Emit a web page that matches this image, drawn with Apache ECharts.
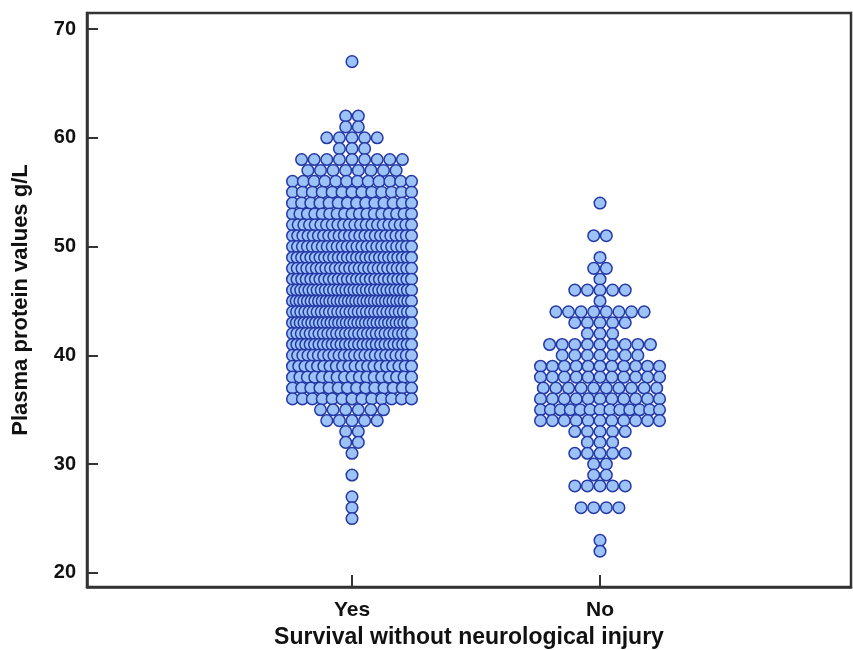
<!DOCTYPE html>
<html><head><meta charset="utf-8">
<script src="https://cdn.jsdelivr.net/npm/echarts@6/dist/echarts.min.js"></script>
<style>html,body{margin:0;padding:0;background:#fff}#c{width:853px;height:650px}</style>
</head><body><div id="c"></div>
<script>
// Categories and tick labels
const categories = ['Yes', 'No'];
const yTicks = [20, 30, 40, 50, 60, 70];

// Group "Yes": plasma protein value (g/L) and number of subjects at that value
const yesValues = [67, 62, 61, 60, 59, 58, 57, 56, 55, 54, 53, 52, 51, 50, 49, 48, 47, 46, 45, 44, 43, 42, 41, 40, 39, 38, 37, 36, 35, 34, 33, 32, 31, 29, 27, 26, 25];
const yesCounts = [1, 2, 2, 5, 3, 9, 8, 12, 13, 14, 17, 22, 24, 25, 27, 26, 27, 30, 33, 30, 32, 28, 28, 24, 20, 17, 14, 13, 6, 5, 2, 2, 1, 1, 1, 1, 1];

// Group "No"
const noValues = [54, 51, 49, 48, 47, 46, 45, 44, 43, 42, 41, 40, 39, 38, 37, 36, 35, 34, 33, 32, 31, 30, 29, 28, 26, 23, 22];
const noCounts = [1, 2, 1, 2, 1, 5, 1, 8, 5, 3, 9, 7, 11, 11, 10, 11, 13, 11, 5, 3, 5, 2, 2, 5, 4, 1, 1];

const data = [];
function addGroup(gi, vals, cnts) {
  for (let k = 0; k < vals.length; k++) {
    for (let r = 0; r < cnts[k]; r++) data.push([gi + 1, vals[k], r, cnts[k]]);
  }
}
addGroup(0, yesValues, yesCounts);
addGroup(1, noValues, noCounts);

const STEP = 12.6, MAXSPAN = 119, RAD = 5.8;
const axisColor = '#333';
const FONT = 'Liberation Sans, Arial, sans-serif';
const chart = echarts.init(document.getElementById('c'), null, {renderer: 'canvas'});
chart.setOption({
  animation: false,
  grid: {left: 87, right: 2, top: 13, bottom: 63, containLabel: false, outerBoundsMode: 'none',
    show: true, borderColor: axisColor, borderWidth: 2.5, backgroundColor: 'transparent'},
  xAxis: {
    type: 'value', min: -0.0685, max: 3.012,
    axisLine: {show: true, onZero: false, lineStyle: {color: axisColor, width: 2.5}},
    axisTick: {show: true, inside: true, length: 12, customValues: [1, 2], lineStyle: {color: axisColor, width: 2}},
    axisLabel: {customValues: [1, 2], formatter: v => categories[Math.round(v) - 1], fontFamily: FONT, fontWeight: 'bold', fontSize: 21, color: '#111', margin: 13},
    splitLine: {show: false},
    name: 'Survival without neurological injury', nameLocation: 'middle', nameGap: 35,
    nameTextStyle: {fontFamily: FONT, fontWeight: 'bold', fontSize: 23, color: '#111'}
  },
  yAxis: {
    type: 'value', min: 18.71, max: 71.47,
    axisLine: {show: true, onZero: false, lineStyle: {color: axisColor, width: 2.5}},
    axisTick: {show: true, inside: true, length: 11, customValues: yTicks, lineStyle: {color: axisColor, width: 2}},
    axisLabel: {customValues: yTicks, fontFamily: FONT, fontWeight: 'bold', fontSize: 20, color: '#111', margin: 11},
    splitLine: {show: false},
    name: 'Plasma protein values g/L', nameLocation: 'middle', nameGap: 55,
    nameTextStyle: {fontFamily: FONT, fontWeight: 'bold', fontSize: 22, color: '#111'}
  },
  series: [{
    type: 'custom',
    data: data,
    clip: false,
    renderItem: function (params, api) {
      const p = api.coord([api.value(0), api.value(1)]);
      const r = api.value(2), n = api.value(3);
      const step = n > 1 ? Math.min(STEP, MAXSPAN / (n - 1)) : 0;
      const x = p[0] + (r - (n - 1) / 2) * step;
      return {type: 'circle', shape: {cx: x, cy: p[1], r: RAD},
        style: {fill: '#9cc2f6', stroke: '#2438a6', lineWidth: 1.5}};
    }
  }]
});
</script></body></html>
